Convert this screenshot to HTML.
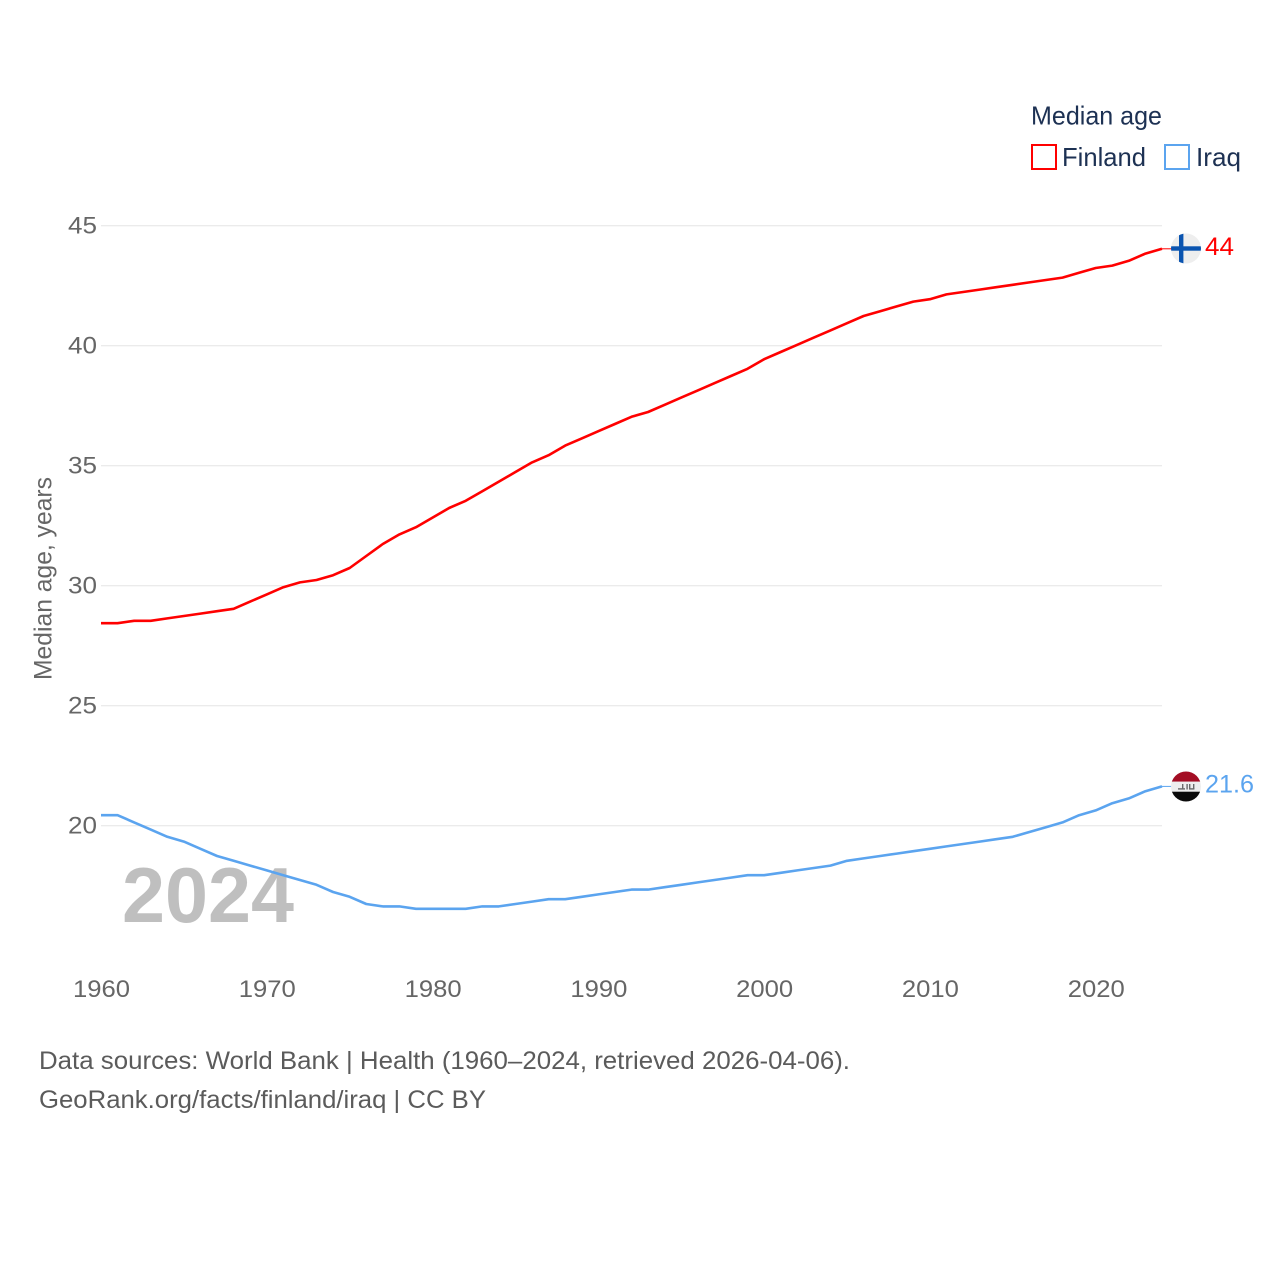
<!DOCTYPE html>
<html lang="en">
<head>
<meta charset="utf-8">
<title>Median age: Finland and Iraq</title>
<style>
html,body{margin:0;padding:0;background:#fff;width:1280px;height:1280px;overflow:hidden}
svg{display:block}
text{font-family:"Liberation Sans",sans-serif}
.tick{font-size:24px;fill:#666}
.note{font-size:25px;fill:#5b5b5b}
.leg{font-size:26px;fill:#1d3153}
</style>
</head>
<body>
<svg id="chart" xmlns="http://www.w3.org/2000/svg" width="1280" height="1280" viewBox="0 0 1280 1280">
  <g id="grid"></g>
  <g id="yticks"></g>
  <g id="xticks"></g>
  <text transform="translate(51.5,680) rotate(-90)" font-size="25" fill="#666" textLength="203" lengthAdjust="spacingAndGlyphs">Median age, years</text>
  <text x="122" y="922" font-size="78" font-weight="700" fill="#000" fill-opacity="0.25" textLength="172" lengthAdjust="spacingAndGlyphs">2024</text>
  <g id="series"></g>

  <g>
    <text class="leg" x="1031" y="124.5" textLength="131" lengthAdjust="spacingAndGlyphs">Median age</text>
    <g>
      <rect x="1032" y="145" width="24" height="24" fill="#fff" stroke="#ff0000" stroke-width="2"/>
      <text class="leg" x="1062" y="166" textLength="84" lengthAdjust="spacingAndGlyphs">Finland</text>
    </g>
    <g>
      <rect x="1165" y="145" width="24" height="24" fill="#fff" stroke="#5ba4ef" stroke-width="2"/>
      <text class="leg" x="1196" y="166" textLength="45" lengthAdjust="spacingAndGlyphs">Iraq</text>
    </g>
  </g>

  <defs>
    <clipPath id="flag-clip-fi"><circle cx="1186" cy="248.5" r="15"/></clipPath>
    <clipPath id="flag-clip-iq"><circle cx="1186" cy="786.5" r="15"/></clipPath>
  </defs>
  <g clip-path="url(#flag-clip-fi)">
    <rect x="1171" y="233" width="30" height="31" fill="#eeeeee"/>
    <rect x="1171" y="246.3" width="30" height="4.4" fill="#0a54b0"/>
    <rect x="1179" y="233" width="4.4" height="31" fill="#0a54b0"/>
  </g>
  <g clip-path="url(#flag-clip-iq)">
    <rect x="1171" y="771" width="30" height="10.7" fill="#a30d24"/>
    <rect x="1171" y="781.7" width="30" height="10" fill="#eeeeee"/>
    <rect x="1171" y="791.7" width="30" height="11" fill="#0b0b0b"/>
    <rect x="1178" y="788.2" width="7" height="1.4" fill="#6a6a6a"/>
    <rect x="1182" y="784" width="1.4" height="5" fill="#6a6a6a"/>
    <rect x="1186.4" y="784" width="1.4" height="5.5" fill="#6a6a6a"/>
    <rect x="1189" y="784" width="1.4" height="5.5" fill="#6a6a6a"/>
    <rect x="1189" y="788.2" width="5.4" height="1.4" fill="#6a6a6a"/>
    <rect x="1193" y="784" width="1.4" height="5" fill="#6a6a6a"/>
  </g>
  <g id="endlabels"></g>

  <g>
    <text class="note" x="39" y="1069" textLength="811" lengthAdjust="spacingAndGlyphs">Data sources: World Bank | Health (1960–2024, retrieved 2026-04-06).</text>
    <text class="note" x="39" y="1108" textLength="447" lengthAdjust="spacingAndGlyphs">GeoRank.org/facts/finland/iraq | CC BY</text>
  </g>
</svg>
<script>
var years = [1960,1961,1962,1963,1964,1965,1966,1967,1968,1969,1970,1971,1972,1973,1974,1975,1976,1977,1978,1979,1980,1981,1982,1983,1984,1985,1986,1987,1988,1989,1990,1991,1992,1993,1994,1995,1996,1997,1998,1999,2000,2001,2002,2003,2004,2005,2006,2007,2008,2009,2010,2011,2012,2013,2014,2015,2016,2017,2018,2019,2020,2021,2022,2023,2024];
var finland = [28.4,28.4,28.5,28.5,28.6,28.7,28.8,28.9,29.0,29.3,29.6,29.9,30.1,30.2,30.4,30.7,31.2,31.7,32.1,32.4,32.8,33.2,33.5,33.9,34.3,34.7,35.1,35.4,35.8,36.1,36.4,36.7,37.0,37.2,37.5,37.8,38.1,38.4,38.7,39.0,39.4,39.7,40.0,40.3,40.6,40.9,41.2,41.4,41.6,41.8,41.9,42.1,42.2,42.3,42.4,42.5,42.6,42.7,42.8,43.0,43.2,43.3,43.5,43.8,44.0];
var iraq = [20.4,20.4,20.1,19.8,19.5,19.3,19.0,18.7,18.5,18.3,18.1,17.9,17.7,17.5,17.2,17.0,16.7,16.6,16.6,16.5,16.5,16.5,16.5,16.6,16.6,16.7,16.8,16.9,16.9,17.0,17.1,17.2,17.3,17.3,17.4,17.5,17.6,17.7,17.8,17.9,17.9,18.0,18.1,18.2,18.3,18.5,18.6,18.7,18.8,18.9,19.0,19.1,19.2,19.3,19.4,19.5,19.7,19.9,20.1,20.4,20.6,20.9,21.1,21.4,21.6];
var yTickValues = [20,25,30,35,40,45];
var xTickValues = [1960,1970,1980,1990,2000,2010,2020];
var finlandEndLabel = "44";
var iraqEndLabel = "21.6";

var NS = 'http://www.w3.org/2000/svg';
function xScale(year){ return 101 + (year - 1960) * (1162 - 101) / 64; }
function yScale(v){ return 825.5 - (v - 20) * 24; }
function seriesY(v){ return yScale(v) - 0.7; }
function linePath(vals){
  var d = '';
  for (var i = 0; i < vals.length; i++) {
    d += (i ? 'L' : 'M') + xScale(years[i]).toFixed(2) + ' ' + seriesY(vals[i]).toFixed(2);
  }
  return d;
}

var gridG = document.getElementById('grid');
var yG = document.getElementById('yticks');
yTickValues.forEach(function(v){
  var ln = document.createElementNS(NS, 'line');
  
  
  ln.setAttribute('x1', 101);
  ln.setAttribute('x2', 1162);
  ln.setAttribute('y1', yScale(v) + 0.2);
  ln.setAttribute('y2', yScale(v) + 0.2);
  ln.setAttribute('stroke', '#ebebeb');
  ln.setAttribute('stroke-width', 1.3);
  gridG.appendChild(ln);
  var t = document.createElementNS(NS, 'text');
  
  
  t.setAttribute('class', 'tick');
  t.setAttribute('x', 68);
  t.setAttribute('y', yScale(v) + 8);
  t.setAttribute('textLength', 29);
  t.setAttribute('lengthAdjust', 'spacingAndGlyphs');
  t.textContent = String(v);
  yG.appendChild(t);
});

var xG = document.getElementById('xticks');
xTickValues.forEach(function(v){
  var t = document.createElementNS(NS, 'text');
  
  
  t.setAttribute('class', 'tick');
  t.setAttribute('x', xScale(v) + 0.5 - 28.5);
  t.setAttribute('y', 997);
  t.setAttribute('textLength', 57);
  t.setAttribute('lengthAdjust', 'spacingAndGlyphs');
  t.textContent = String(v);
  xG.appendChild(t);
});

var sG = document.getElementById('series');
function addSeries(vals, color, name){
  var p = document.createElementNS(NS, 'path');
  
  
  p.setAttribute('d', linePath(vals));
  p.setAttribute('fill', 'none');
  p.setAttribute('stroke', color);
  p.setAttribute('stroke-width', 2.6);
  p.setAttribute('stroke-linejoin', 'round');
  sG.appendChild(p);
  var last = seriesY(vals[vals.length - 1]);
  var c = document.createElementNS(NS, 'line');
  
  
  c.setAttribute('x1', xScale(years[years.length - 1]));
  c.setAttribute('x2', xScale(years[years.length - 1]) + 10);
  c.setAttribute('y1', last);
  c.setAttribute('y2', last);
  c.setAttribute('stroke', color);
  c.setAttribute('stroke-width', 1);
  sG.appendChild(c);
}
addSeries(finland, '#ff0000', 'finland-line');
addSeries(iraq, '#5ba4ef', 'iraq-line');

var eG = document.getElementById('endlabels');
function addEnd(label, vals, color, width, name){
  var t = document.createElementNS(NS, 'text');
  
  
  t.setAttribute('x', 1205);
  t.setAttribute('y', yScale(vals[vals.length - 1]) + 5.5);
  t.setAttribute('font-size', 25);
  t.setAttribute('fill', color);
  t.setAttribute('textLength', width);
  t.setAttribute('lengthAdjust', 'spacingAndGlyphs');
  t.textContent = label;
  eG.appendChild(t);
}
addEnd(finlandEndLabel, finland, '#ff0000', 29, 'finland-end-value');
addEnd(iraqEndLabel, iraq, '#5ba4ef', 49, 'iraq-end-value');
</script>
</body>
</html>
